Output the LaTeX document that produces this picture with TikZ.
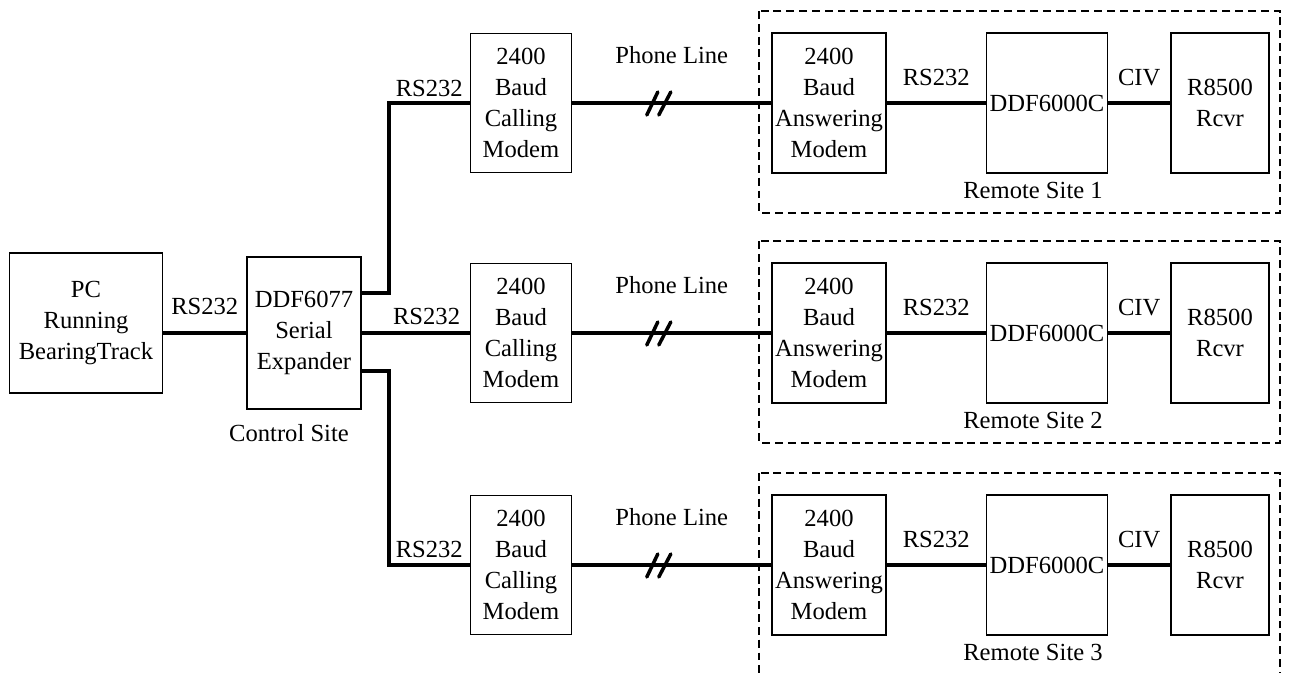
\documentclass[tikz,border=0pt]{standalone}
\usepackage{fontspec}
\setmainfont{Liberation Serif}
\usetikzlibrary{positioning}

\begin{document}
\begin{tikzpicture}[
  x=0.02cm, y=-0.02cm,
  font=\fontsize{14}{17.5}\selectfont,
  unit/.style={draw, line width=0.8pt, align=center, inner sep=1pt, minimum height=2.8cm},
  wire/.style={line width=2.3pt},
  slash/.style={line width=2pt, line cap=round},
  sitebox/.style={draw, line width=0.6pt, dash pattern=on 4.5pt off 2.8pt},
  lbl/.style={inner sep=0pt}
]
  \useasboundingbox (0,0) rectangle (1303,673);

  \node[unit, minimum width=3.06cm] (pc) at (86,323) {PC\\Running\\BearingTrack};
  \node[unit, minimum width=2.28cm, minimum height=3.04cm] (exp) at (304,333) {DDF6077\\Serial\\Expander};
  \node (ctrl) at (289,433) {Control Site};

  \foreach \r/\y in {1/103, 2/333, 3/565} {
    \draw[sitebox] (759,\y-92) rectangle (1280,\y+110);
    \node[unit, minimum width=2.02cm, minimum height=2.78cm] (call\r) at (521,\y) {2400\\Baud\\Calling\\Modem};
    \node[unit, minimum width=2.28cm] (ans\r) at (829,\y) {2400\\Baud\\Answering\\Modem};
    \node[unit, minimum width=2.42cm] (ddf\r) at (1047,\y) {DDF6000C};
    \node[unit, minimum width=1.96cm] (rcv\r) at (1220,\y) {R8500\\Rcvr};
    \node (site\r) at (1033,\y+87) {Remote Site \r};

    \draw[wire] (call\r) -- node[lbl, above=21pt] {Phone Line} coordinate[pos=0.44] (cut\r) (ans\r);
    \draw[slash] (cut\r) ++(-13,12) -- ++(11,-23);
    \draw[slash] (cut\r) ++(-1,12) -- ++(12,-23);
    \draw[wire] (ans\r) -- node[lbl, above=8.5pt] {RS232} (ddf\r);
    \draw[wire] (ddf\r) -- node[lbl, above=8.5pt] {CIV} (rcv\r);
  }

  \draw[wire] (pc.east |- exp.west) -- node[lbl, above=9pt] {RS232} (exp.west);
  \draw[wire] ([yshift=0.8cm]exp.east) -- ++(27,0) |- node[lbl, above=2.5pt, pos=0.75] {RS232} (call1.west);
  \draw[wire] (exp.east) -- node[lbl, above=3.4pt, pos=0.6] {RS232} (exp.east -| call2.west);
  \draw[wire] ([yshift=-0.76cm]exp.east) -- ++(27,0) |- node[lbl, above=3pt, pos=0.75] {RS232} (call3.west);
\end{tikzpicture}
\end{document}
